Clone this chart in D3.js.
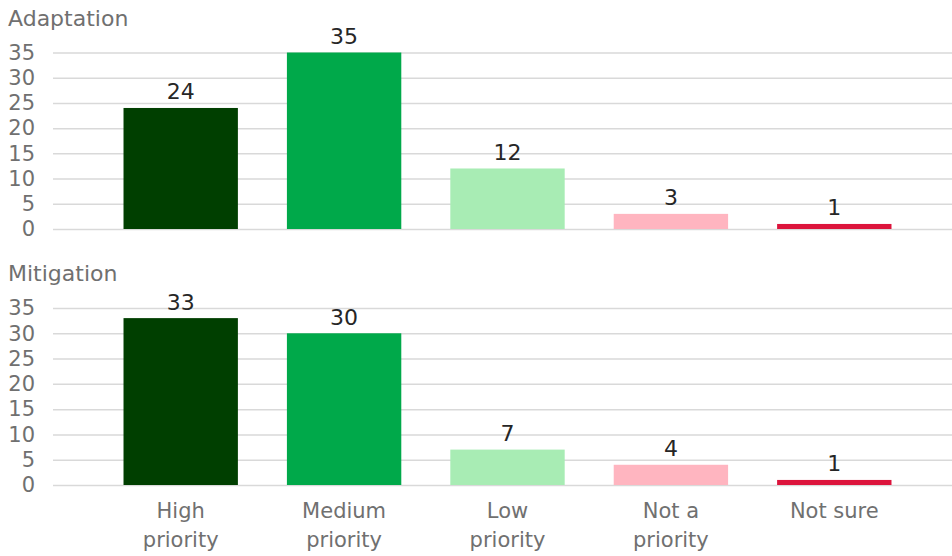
<!DOCTYPE html>
<html>
<head>
<meta charset="utf-8">
<script src="https://cdn.jsdelivr.net/npm/d3@7"></script>
<style>
  html, body { margin: 0; padding: 0; background: #fff; }
  svg { display: block; font-family: "DejaVu Sans", "Noto Sans", sans-serif; }
</style>
</head>
<body>
<svg id="chart" width="952" height="556"></svg>
<script>
// Survey responses: how each area is prioritised
const categories = ["High priority", "Medium priority", "Low priority", "Not a priority", "Not sure"];
const categoryLines = [["High", "priority"], ["Medium", "priority"], ["Low", "priority"], ["Not a", "priority"], ["Not sure"]];
const adaptationValues = [24, 35, 12, 3, 1];
const mitigationValues = [33, 30, 7, 4, 1];
const barColors = ["#003f00", "#00a94a", "#a8ecb4", "#ffb5c0", "#dc143c"];
const yTicks = [0, 5, 10, 15, 20, 25, 30, 35];

const panels = [
  { title: "Adaptation", values: adaptationValues, top: 52.5, bottom: 229, titleY: 26 },
  { title: "Mitigation", values: mitigationValues, top: 308, bottom: 485, titleY: 281 }
];

const svg = d3.select("#chart");
const gridLeft = 53, gridRight = 952;
const labelGrey = "#707070";

const x = d3.scaleBand()
  .domain(categories)
  .range([99, 916])
  .paddingInner(0.3)
  .paddingOuter(0.15);

const color = d3.scaleOrdinal().domain(categories).range(barColors);

panels.forEach(p => {
  const y = d3.scaleLinear().domain([0, 35]).range([p.bottom, p.top]);
  const g = svg.append("g");

  // panel title
  g.append("text")
    .attr("x", 8).attr("y", p.titleY)
    .attr("font-size", 22).attr("fill", labelGrey)
    .text(p.title);

  // gridlines + tick labels
  const axis = d3.axisLeft(y).tickValues(yTicks).tickSize(-(gridRight - gridLeft)).tickPadding(18);
  const ax = g.append("g")
    .attr("transform", `translate(${gridLeft},0)`)
    .call(axis);
  ax.select(".domain").remove();
  ax.selectAll(".tick line").attr("stroke", "#d9d9d9").attr("stroke-width", 1.5);
  ax.selectAll(".tick text")
    .attr("font-size", 21).attr("fill", labelGrey)
    .attr("font-family", "\"DejaVu Sans\", sans-serif");

  // bars
  g.selectAll("rect.bar")
    .data(p.values)
    .join("rect")
    .attr("class", "bar")
    .attr("x", (d, i) => x(categories[i]))
    .attr("width", x.bandwidth())
    .attr("y", d => y(d))
    .attr("height", d => y(0) - y(d))
    .attr("fill", (d, i) => color(categories[i]));

  // value labels
  g.selectAll("text.val")
    .data(p.values)
    .join("text")
    .attr("class", "val")
    .attr("x", (d, i) => x(categories[i]) + x.bandwidth() / 2)
    .attr("y", d => y(d) - 8.5)
    .attr("text-anchor", "middle")
    .attr("font-size", 22).attr("fill", "#262626")
    .text(d => d);
});

// category labels under the lower panel
const xl = svg.append("g");
categoryLines.forEach((lines, i) => {
  const cx = x(categories[i]) + x.bandwidth() / 2;
  const t = xl.append("text")
    .attr("x", cx)
    .attr("y", 518)
    .attr("text-anchor", "middle")
    .attr("font-size", 21).attr("fill", labelGrey);
  lines.forEach((ln, j) => {
    t.append("tspan")
      .attr("x", cx)
      .attr("dy", j === 0 ? 0 : 28.5)
      .text(ln);
  });
});
</script>
</body>
</html>
